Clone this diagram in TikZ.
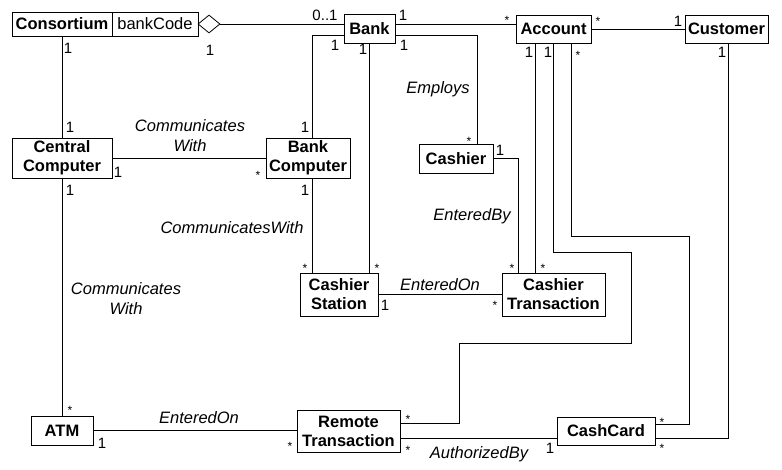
\documentclass[tikz,border=0pt]{standalone}
\usepackage{fontspec}
\setmainfont{Liberation Sans}
\usetikzlibrary{shapes.geometric}

\begin{document}
\begin{tikzpicture}[x=1pt, y=-1pt,
    cls/.style={draw=black, line width=0.8pt, align=center, inner sep=0pt, font=\fontsize{16.5}{19}\selectfont\bfseries},
    attr/.style={draw=black, line width=0.8pt, inner sep=0pt, font=\fontsize{16.5}{19}\selectfont},
    lnk/.style={black, line width=0.8pt},
    mul/.style={inner sep=0pt, font=\fontsize{15}{15}\selectfont},
    mstar/.style={inner sep=0pt, font=\fontsize{12}{12}\selectfont},
    asc/.style={inner sep=0pt, align=center, font=\fontsize{16.5}{20}\selectfont\itshape}]
        \useasboundingbox (0,0) rectangle (782,469);

        \node[cls, minimum width=100, minimum height=24] (cons) at (62,24) {Consortium};
        \node[attr, minimum width=86, minimum height=24] (code) at (155,24) {bankCode};
        \node[draw=black, line width=0.8pt, diamond, inner sep=0pt, minimum width=22, minimum height=18] (agg) at (209,24) {};
        \node[cls, minimum width=51, minimum height=29] (bank) at (369.5,28.5) {Bank};
        \node[cls, minimum width=75, minimum height=28] (acct) at (553.5,29) {Account};
        \node[cls, minimum width=83, minimum height=28] (cust) at (726.5,29) {Customer};
        \node[cls, minimum width=100, minimum height=40] (cc) at (62,158) {Central\\Computer};
        \node[cls, minimum width=84, minimum height=40] (bc) at (308,158) {Bank\\Computer};
        \node[cls, minimum width=74, minimum height=29] (cashier) at (456,158.5) {Cashier};
        \node[cls, minimum width=78, minimum height=43] (cs) at (339,294.5) {Cashier\\Station};
        \node[cls, minimum width=103, minimum height=43] (ct) at (553.5,294.5) {Cashier\\Transaction};
        \node[cls, minimum width=62, minimum height=29] (atm) at (62,430.5) {ATM};
        \node[cls, minimum width=103, minimum height=42] (rt) at (348.5,431) {Remote\\Transaction};
        \node[cls, minimum width=98, minimum height=28] (card) at (606,431) {CashCard};

        \coordinate (r1) at (631,252);
        \coordinate (r2) at (459,343);
        \coordinate (r3) at (689,236);

        \draw[lnk] (agg.east) -- (agg.east -| bank.west);
        \draw[lnk] ([yshift=4.5pt]bank.east) -- ([yshift=4.5pt]bank.east -| acct.west);
        \draw[lnk] (acct.east) -- (cust.west);
        \draw[lnk] (cons.south) -- (cc.north);
        \draw[lnk] ([yshift=-6.5pt]bank.west) -| ([xshift=4pt]bc.north);
        \draw[lnk] (bank.south) -- (bank.south |- cs.north);
        \draw[lnk] ([yshift=-6.5pt]bank.east) -| ([xshift=21pt]cashier.north);
        \draw[lnk] (cc.east) -- (bc.west);
        \draw[lnk] ([xshift=4pt]bc.south) -- ([xshift=4pt]bc.south |- cs.north);
        \draw[lnk] (cc.south) -- (atm.north);
        \draw[lnk] (cashier.east) -| ([xshift=-35.5pt]ct.north);
        \draw[lnk] ([xshift=-18.5pt]acct.south) -- ([xshift=-18.5pt]acct.south |- ct.north);
        \draw[lnk] (acct.south) |- (r1) |- (r2) |- ([yshift=8pt]rt.east);
        \draw[lnk] ([xshift=17.5pt]acct.south) |- (r3) |- ([yshift=7pt]card.east);
        \draw[lnk] ([xshift=1.5pt]cust.south) |- ([yshift=-7pt]card.east);
        \draw[lnk] (cs.east) -- (ct.west);
        \draw[lnk] (atm.east) -- (atm.east -| rt.west);
        \draw[lnk] ([yshift=-7pt]rt.east) -- ([yshift=-7pt]card.west);

        \node[asc] (l1) at (190,136) {Communicates\\With};
        \node[asc] (l2) at (438,89) {Employs};
        \node[asc] (l3) at (472,216) {EnteredBy};
        \node[asc] (l4) at (232,228) {CommunicatesWith};
        \node[asc] (l5) at (440,285) {EnteredOn};
        \node[asc] (l6) at (126,299) {Communicates\\With};
        \node[asc] (l7) at (199,418) {EnteredOn};
        \node[asc] (l8) at (479,454) {AuthorizedBy};

        \node[mul] (m1) at (68,48) {1};
        \node[mul] (m2) at (210,50) {1};
        \node[mul] (m3) at (325,15) {0..1};
        \node[mul] (m4) at (403,15) {1};
        \node[mul] (m5) at (678,21) {1};
        \node[mul] (m6) at (335,45) {1};
        \node[mul] (m7) at (363,49) {1};
        \node[mul] (m8) at (404,45) {1};
        \node[mul] (m9) at (529,52) {1};
        \node[mul] (m10) at (548,52) {1};
        \node[mul] (m11) at (722,52) {1};
        \node[mul] (m12) at (70,127) {1};
        \node[mul] (m13) at (118,172) {1};
        \node[mul] (m14) at (70,190) {1};
        \node[mul] (m15) at (305,127) {1};
        \node[mul] (m16) at (305,190) {1};
        \node[mul] (m17) at (500,150) {1};
        \node[mul] (m18) at (385,305) {1};
        \node[mul] (m19) at (102,443) {1};
        \node[mul] (m20) at (550,448) {1};

        \node[mstar] (s1) at (507,20) {*};
        \node[mstar] (s2) at (598,21) {*};
        \node[mstar] (s3) at (578,55) {*};
        \node[mstar] (s4) at (258,175) {*};
        \node[mstar] (s5) at (469,141) {*};
        \node[mstar] (s6) at (305,268) {*};
        \node[mstar] (s7) at (377,268) {*};
        \node[mstar] (s8) at (495,305) {*};
        \node[mstar] (s9) at (512,268) {*};
        \node[mstar] (s10) at (543,268) {*};
        \node[mstar] (s11) at (70,410) {*};
        \node[mstar] (s12) at (290,446) {*};
        \node[mstar] (s13) at (408,419) {*};
        \node[mstar] (s14) at (408,450) {*};
        \node[mstar] (s15) at (662,422) {*};
        \node[mstar] (s16) at (662,448) {*};
    \end{tikzpicture}
\end{document}
